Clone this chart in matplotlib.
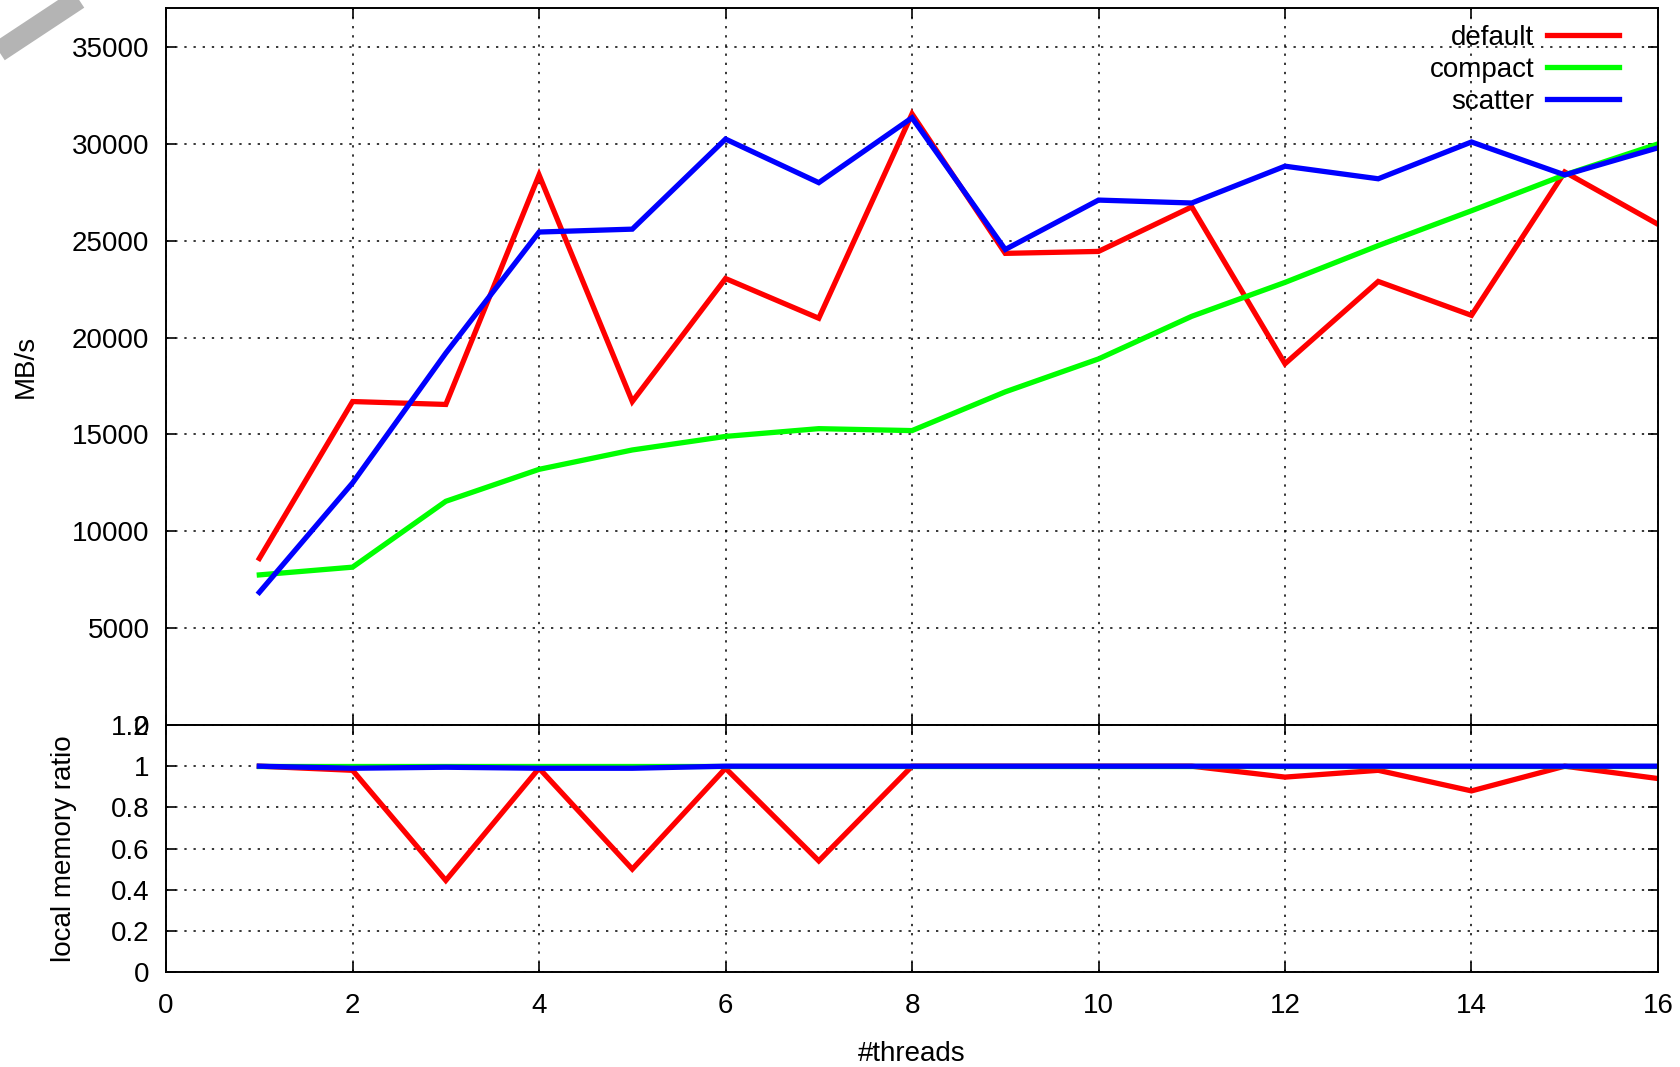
import matplotlib
matplotlib.use('Agg')
import matplotlib.pyplot as plt
from matplotlib.lines import Line2D
import numpy as np

plt.rcParams['font.family'] = ['Liberation Sans', 'DejaVu Sans']

threads = list(range(1, 17))

# bandwidth in MB/s
bw_default = [8600, 16700, 16550, 28400, 16700, 23050, 21000, 31550,
              24350, 24450, 26750, 18650, 22900, 21150, 28550, 25850]
bw_compact = [7750, 8150, 11550, 13200, 14200, 14900, 15300, 15200,
              17200, 18900, 21100, 22850, 24750, 26550, 28400, 30000]
bw_scatter = [6850, 12500, 19200, 25450, 25600, 30250, 28000, 31350,
              24550, 27100, 26950, 28850, 28200, 30100, 28400, 29800]

# share of memory accesses served locally
loc_default = [1.0, 0.98, 0.445, 0.99, 0.50, 0.99, 0.54, 1.0,
               1.0, 1.0, 1.0, 0.947, 0.98, 0.88, 1.0, 0.94]
loc_compact = [1.0] * 16
loc_scatter = [1.0, 0.99, 0.995, 0.99, 0.99, 1.0, 1.0, 1.0,
               1.0, 1.0, 1.0, 1.0, 1.0, 1.0, 1.0, 1.0]

labels = ['default', 'compact', 'scatter']
colors = ['#ff0000', '#00ff00', '#0000ff']

fig = plt.figure(figsize=(16.81, 10.67), dpi=100)
ax1 = fig.add_axes([0.0988, 0.3205, 0.8875, 0.6717])
ax2 = fig.add_axes([0.0988, 0.0890, 0.8875, 0.2315])

fs = 20
lw = 3.8

for ax in (ax1, ax2):
    ax.set_xlim(0, 16)
    ax.set_xticks(range(0, 17, 2))
    ax.grid(True, color='black', linestyle=(0, (1.5, 4.5)), linewidth=1.1)
    ax.tick_params(direction='in', length=7, width=1.2, top=True, right=True,
                   labelsize=fs, pad=12)
    for s in ax.spines.values():
        s.set_linewidth(1.4)
ax2.tick_params(axis='x', pad=15)

for ys, lab, c in zip([bw_default, bw_compact, bw_scatter], labels, colors):
    ax1.plot(threads, ys, color=c, lw=lw, label=lab, solid_joinstyle='miter')
ax1.set_ylim(0, 37000)
ax1.set_yticks(range(0, 35001, 5000))
ax1.tick_params(labelbottom=False)
ax1.set_ylabel('MB/s', fontsize=fs, labelpad=24)
leg = ax1.legend(loc='upper right', markerfirst=False, frameon=False,
                 fontsize=fs, handlelength=2.6, handletextpad=0.45,
                 labelspacing=0.22, borderaxespad=0.2,
                 bbox_to_anchor=(0.985, 1.0))
for t in leg.get_texts():
    t.set_ha('right')

for ys, c in zip([loc_default, loc_compact, loc_scatter], colors):
    ax2.plot(threads, ys, color=c, lw=lw, solid_joinstyle='miter')
ax2.set_ylim(0, 1.2)
ax2.set_yticks([0, 0.2, 0.4, 0.6, 0.8, 1.0, 1.2])
ax2.set_yticklabels(['0', '0.2', '0.4', '0.6', '0.8', '1', '1.2'])
ax2.set_ylabel('local memory ratio', fontsize=fs, labelpad=24)
ax2.set_xlabel('#threads', fontsize=fs, labelpad=16)

# grey ribbon in the top-left corner
fig.add_artist(Line2D([-0.01, 0.053], [1 - 62 / 1067, 1 + 8 / 1067],
                      transform=fig.transFigure, color='#b4b4b4', lw=15,
                      solid_capstyle='butt'))

fig.savefig('out.png', dpi=100)
